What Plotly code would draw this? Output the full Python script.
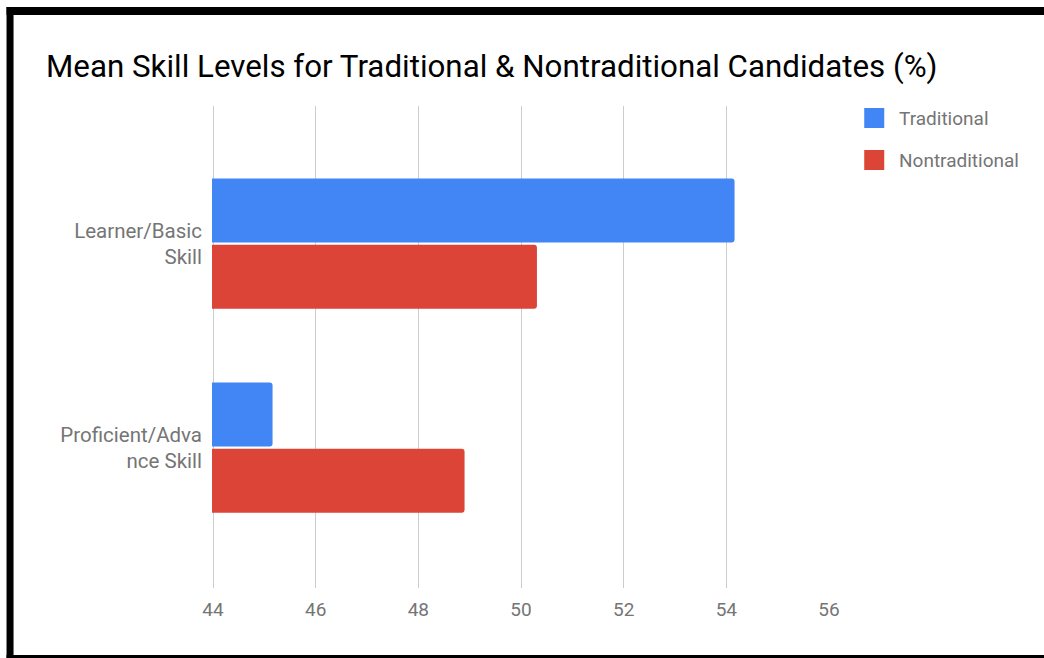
import plotly.graph_objects as go

categories = ["Learner/Basic<br>Skill", "Proficient/Adva<br>nce Skill"]
series_names = ["Traditional", "Nontraditional"]
traditional = [54.16, 45.16]
nontraditional = [50.31, 48.90]
x_ticks = [44, 46, 48, 50, 52, 54, 56]
title_text = "Mean Skill Levels for Traditional &amp; Nontraditional Candidates (%)"
colors = ["#4285F4", "#DB4437"]

W, H = 1044, 658
L, R, T, B = 212.3, 828.8, 106, 588
FONT = "Roboto, Arial, sans-serif"


def px(x):
    return (x - L) / (R - L)


def py(y):
    return (B - y) / (B - T)


fig = go.Figure()
for name, vals, col in zip(series_names, [traditional, nontraditional], colors):
    fig.add_trace(go.Bar(
        y=categories, x=vals, name=name, orientation="h",
        marker=dict(color=col, line=dict(width=0)),
        base=0, showlegend=False,
    ))

shapes = []
# black frame
for x0, y0, x1, y1 in [(7, 7, 1050, 15), (7, 7, 14, 660), (7, 655, 1050, 660)]:
    shapes.append(dict(type="rect", xref="paper", yref="paper",
                       x0=px(x0), x1=px(x1), y0=py(y0), y1=py(y1),
                       fillcolor="black", line=dict(width=0), layer="above"))

annotations = []
# legend
for i, (name, col) in enumerate(zip(series_names, colors)):
    yc = 118 + 42 * i
    shapes.append(dict(type="rect", xref="paper", yref="paper",
                       x0=px(864), x1=px(884), y0=py(yc - 10), y1=py(yc + 10),
                       fillcolor=col, line=dict(width=0), layer="above"))
    annotations.append(dict(text=name, xref="paper", yref="paper",
                            x=px(897), y=py(yc), xanchor="left", yanchor="middle",
                            showarrow=False,
                            font=dict(family=FONT, size=19, color="#757575")))

fig.update_layout(
    width=W, height=H,
    margin=dict(l=L, r=W - R, t=T, b=H - B, pad=0),
    paper_bgcolor="white", plot_bgcolor="white",
    barmode="group", bargap=0.35, bargroupgap=0.035,
    barcornerradius=3,
    title=dict(text=title_text, x=46 / W, xanchor="left", xref="container",
               y=1 - 66 / H, yanchor="middle", yref="container",
               font=dict(family=FONT, size=31.3, color="#000000")),
    xaxis=dict(range=[43.98, 56], tickvals=x_ticks, showgrid=True,
               gridcolor="#cccccc", gridwidth=1, zeroline=False,
               showline=False, ticks="", ticklabelstandoff=8,
               tickfont=dict(family=FONT, size=19, color="#757575")),
    yaxis=dict(type="category", range=[1.688, -0.675], showgrid=False,
               zeroline=False, showline=False, ticks="", ticklabelstandoff=9,
               tickfont=dict(family=FONT, size=20.5, color="#757575")),
    shapes=shapes, annotations=annotations,
    showlegend=False,
)

fig.write_html("out.html")
